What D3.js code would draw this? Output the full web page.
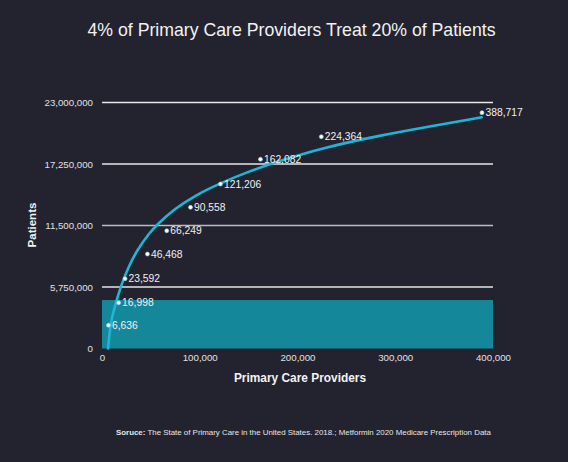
<!DOCTYPE html>
<html>
<head>
<meta charset="utf-8">
<script src="https://cdn.jsdelivr.net/npm/d3@7"></script>
<style>
  html, body { margin: 0; padding: 0; background: #232330; }
  svg { display: block; font-family: "Liberation Sans", Arial, Helvetica, sans-serif; }
</style>
</head>
<body>
<svg id="chart" width="568" height="462"></svg>
<script>
// ---- data ----
const providers = [6636, 16998, 23592, 46468, 66249, 90558, 121206, 162082, 224364, 388717];
const patients  = [2170000, 4280000, 6530000, 8830000, 11010000, 13200000, 15380000, 17690000, 19800000, 22050000];
// trend curve
const trendX = [6140, 7000, 8180, 10000, 12280, 15650, 19740, 27620, 36110, 48080, 55960, 73660, 95000, 120700, 150000, 178700, 226400, 284400, 338900, 388400];
const trendY = [0, 800000, 1800000, 2800000, 3650000, 4700000, 5950000, 7750000, 9220000, 10750000, 11550000, 13020000, 14300000, 15450000, 16550000, 17450000, 18780000, 19920000, 20820000, 21620000];
// shaded band: 20% of patients
const bandTop = 4530000;
const bandXMax = 400000;
const yTicks = [0, 5750000, 11500000, 17250000, 23000000];
const xTicks = [0, 100000, 200000, 300000, 400000];
const title = "4% of Primary Care Providers Treat 20% of Patients";
const xTitle = "Primary Care Providers";
const yTitle = "Patients";

// ---- layout ----
const svg = d3.select("#chart");
const fmt = d3.format(",");
const x = d3.scaleLinear().domain([0, 400000]).range([102, 493]);
const y = d3.scaleLinear().domain([0, 23000000]).range([348.5, 102.5]);

svg.append("rect").attr("width", 568).attr("height", 462).attr("fill", "#232330");

svg.append("text")
  .attr("x", 291.5).attr("y", 36)
  .attr("text-anchor", "middle")
  .attr("fill", "#f2f2f2")
  .attr("font-size", 17.7)
  .text(title);

// band
svg.append("rect")
  .attr("x", x(0)).attr("y", y(bandTop))
  .attr("width", x(bandXMax) - x(0))
  .attr("height", y(0) - y(bandTop))
  .attr("fill", "#15879a");

// gridlines
svg.append("g").selectAll("line")
  .data(yTicks.filter(d => d > 0))
  .join("line")
  .attr("x1", x(0)).attr("x2", x(400000))
  .attr("y1", d => y(d)).attr("y2", d => y(d))
  .attr("stroke", (d, i) => i === 1 ? "#bdbdbd" : "#e6e6e6")
  .attr("stroke-width", 1.4);

// y axis labels
const yAxis = d3.axisLeft(y).tickValues(yTicks).tickFormat(fmt).tickSize(0).tickPadding(9);
const gy = svg.append("g").attr("transform", `translate(${x(0)},0)`).call(yAxis);
gy.select(".domain").remove();
gy.selectAll("text").attr("fill", "#e0e0e0").attr("font-size", 9.7)
  .attr("font-family", "Liberation Sans, Arial, sans-serif");

// x axis labels
const xAxis = d3.axisBottom(x).tickValues(xTicks).tickFormat(fmt).tickSize(0).tickPadding(6);
const gx = svg.append("g").attr("transform", `translate(0,${y(0)})`).call(xAxis);
gx.select(".domain").remove();
gx.selectAll("text").attr("fill", "#e0e0e0").attr("font-size", 9.7)
  .attr("font-family", "Liberation Sans, Arial, sans-serif");

// axis titles
svg.append("text")
  .attr("x", 300).attr("y", 382)
  .attr("text-anchor", "middle").attr("fill", "#f2f2f2")
  .attr("font-size", 11.9).attr("font-weight", "bold")
  .text(xTitle);
svg.append("text")
  .attr("transform", "translate(36,225) rotate(-90)")
  .attr("text-anchor", "middle").attr("fill", "#f2f2f2")
  .attr("font-size", 11.5).attr("font-weight", "bold")
  .text(yTitle);

// trend curve
const trend = trendX.map((d, i) => [d, trendY[i]]);
svg.append("path")
  .datum(trend)
  .attr("d", d3.line().x(d => x(d[0])).y(d => y(d[1])).curve(d3.curveBasis))
  .attr("fill", "none")
  .attr("stroke", "#1fb6d6")
  .attr("stroke-width", 2.6)
  .attr("stroke-linecap", "round");

// points + labels
const pts = providers.map((d, i) => ({ x: d, y: patients[i] }));
const gp = svg.append("g");
gp.selectAll("circle").data(pts).join("circle")
  .attr("cx", d => x(d.x)).attr("cy", d => y(d.y)).attr("r", 2)
  .attr("fill", "#ffffff").attr("stroke", "#8fd3ea").attr("stroke-width", 0.6);
gp.selectAll("text").data(pts).join("text")
  .attr("x", d => x(d.x) + 3.5).attr("y", d => y(d.y) + 3.6)
  .attr("fill", "#f0f0f0").attr("font-size", 10.3)
  .text(d => fmt(d.x));

// source
const src = svg.append("text").attr("x", 116).attr("y", 435)
  .attr("fill", "#e6e6e6").attr("font-size", 7.9);
src.append("tspan").attr("font-weight", "bold").text("Soruce:");
src.append("tspan").text(" The State of Primary Care in the United States. 2018.; Metformin 2020 Medicare Prescription Data");
</script>
</body>
</html>
